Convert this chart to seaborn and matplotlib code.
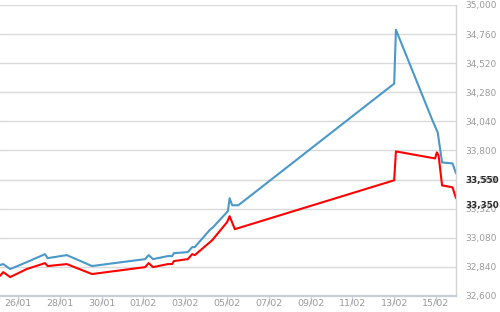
import matplotlib
matplotlib.use('Agg')
import matplotlib.pyplot as plt
import seaborn as sns
import pandas as pd

# ---- data (hours after 26/01 00:00, values) ----
blue_hours = [-21, -17, -9, 10, 31, 34, 56, 85, 102, 146, 150, 155, 172, 177, 179,
              195, 200, 203, 220, 224, 241, 243, 246, 253, 432, 434, 476, 482, 487, 499, 503]
blue_values = [32855, 32863, 32822, 32879, 32945, 32912, 32937, 32847, 32863, 32904,
               32937, 32904, 32929, 32929, 32953, 32962, 33003, 33003, 33143, 33167,
               33299, 33406, 33348, 33348, 34351, 34795, 34047, 33948, 33701, 33693, 33611]

red_hours = [-21, -17, -9, 10, 31, 34, 56, 85, 102, 146, 150, 155, 172, 177, 179,
             195, 200, 203, 223, 240, 243, 249, 432, 434, 479, 481, 483, 487, 499, 503]
red_values = [32764, 32797, 32756, 32822, 32871, 32847, 32863, 32781, 32797, 32838,
              32871, 32838, 32863, 32863, 32888, 32904, 32945, 32937, 33060, 33208,
              33258, 33151, 33554, 33792, 33734, 33784, 33759, 33512, 33496, 33406]

x_tick_labels = ['26/01', '28/01', '30/01', '01/02', '03/02', '05/02',
                 '07/02', '09/02', '11/02', '13/02', '15/02']
y_ticks = [32600, 32840, 33080, 33320, 33560, 33800, 34040, 34280, 34520, 34760, 35000]
y_tick_labels = ['32,600', '32,840', '33,080', '33,320', '33,560', '33,800',
                 '34,040', '34,280', '34,520', '34,760', '35,000']
last_labels = ['33,550', '33,350']
last_label_values = [33550, 33350]

base = pd.Timestamp('2015-01-26')
df_b = pd.DataFrame({'time': base + pd.to_timedelta(blue_hours, unit='h'), 'value': blue_values})
df_r = pd.DataFrame({'time': base + pd.to_timedelta(red_hours, unit='h'), 'value': red_values})

sns.set_style('white')
fig = plt.figure(figsize=(5, 3.12), dpi=100)
ax = fig.add_axes([0, 0.0513, 0.912, 0.933])

sns.lineplot(data=df_b, x='time', y='value', color='#4a98c9', lw=1.5, ax=ax,
             estimator=None, sort=False)
sns.lineplot(data=df_r, x='time', y='value', color='#ff0000', lw=1.5, ax=ax,
             estimator=None, sort=False)

ax.set_xlim(base + pd.Timedelta(hours=-20.7), base + pd.Timedelta(hours=503))
ax.set_ylim(32600, 35000)
ax.set_xlabel('')
ax.set_ylabel('')

xt = pd.to_datetime([l + '/2015' for l in x_tick_labels], format='%d/%m/%Y')
ax.set_xticks(xt)
ax.set_xticklabels(x_tick_labels)
ax.yaxis.tick_right()
ax.set_yticks(y_ticks)
ax.set_yticklabels(y_tick_labels)

ax.grid(axis='y', color='#dadada', lw=1)
ax.grid(axis='x', visible=False)
ax.set_axisbelow(True)

for s in ['left', 'top']:
    ax.spines[s].set_visible(False)
ax.spines['bottom'].set_color('#c8ced6')
ax.spines['bottom'].set_linewidth(1.6)
ax.spines['right'].set_color('#d4d4d4')
ax.spines['right'].set_linewidth(1)

ax.tick_params(axis='x', direction='out', length=6, width=1, color='#c8ced6',
               labelcolor='#9a9a9a', labelsize=6.8, pad=-4.5, bottom=True)
ax.tick_params(axis='y', length=0, labelcolor='#9a9a9a', labelsize=6.5, pad=6.5, right=True)

for lab, v in zip(last_labels, last_label_values):
    ax.annotate(lab, xy=(1, v), xycoords=('axes fraction', 'data'), xytext=(6.5, 0),
                textcoords='offset points', ha='left', va='center', color='#2a2a2a',
                fontsize=6.3, fontweight='bold', annotation_clip=False)

fig.savefig('out.png', dpi=100)
